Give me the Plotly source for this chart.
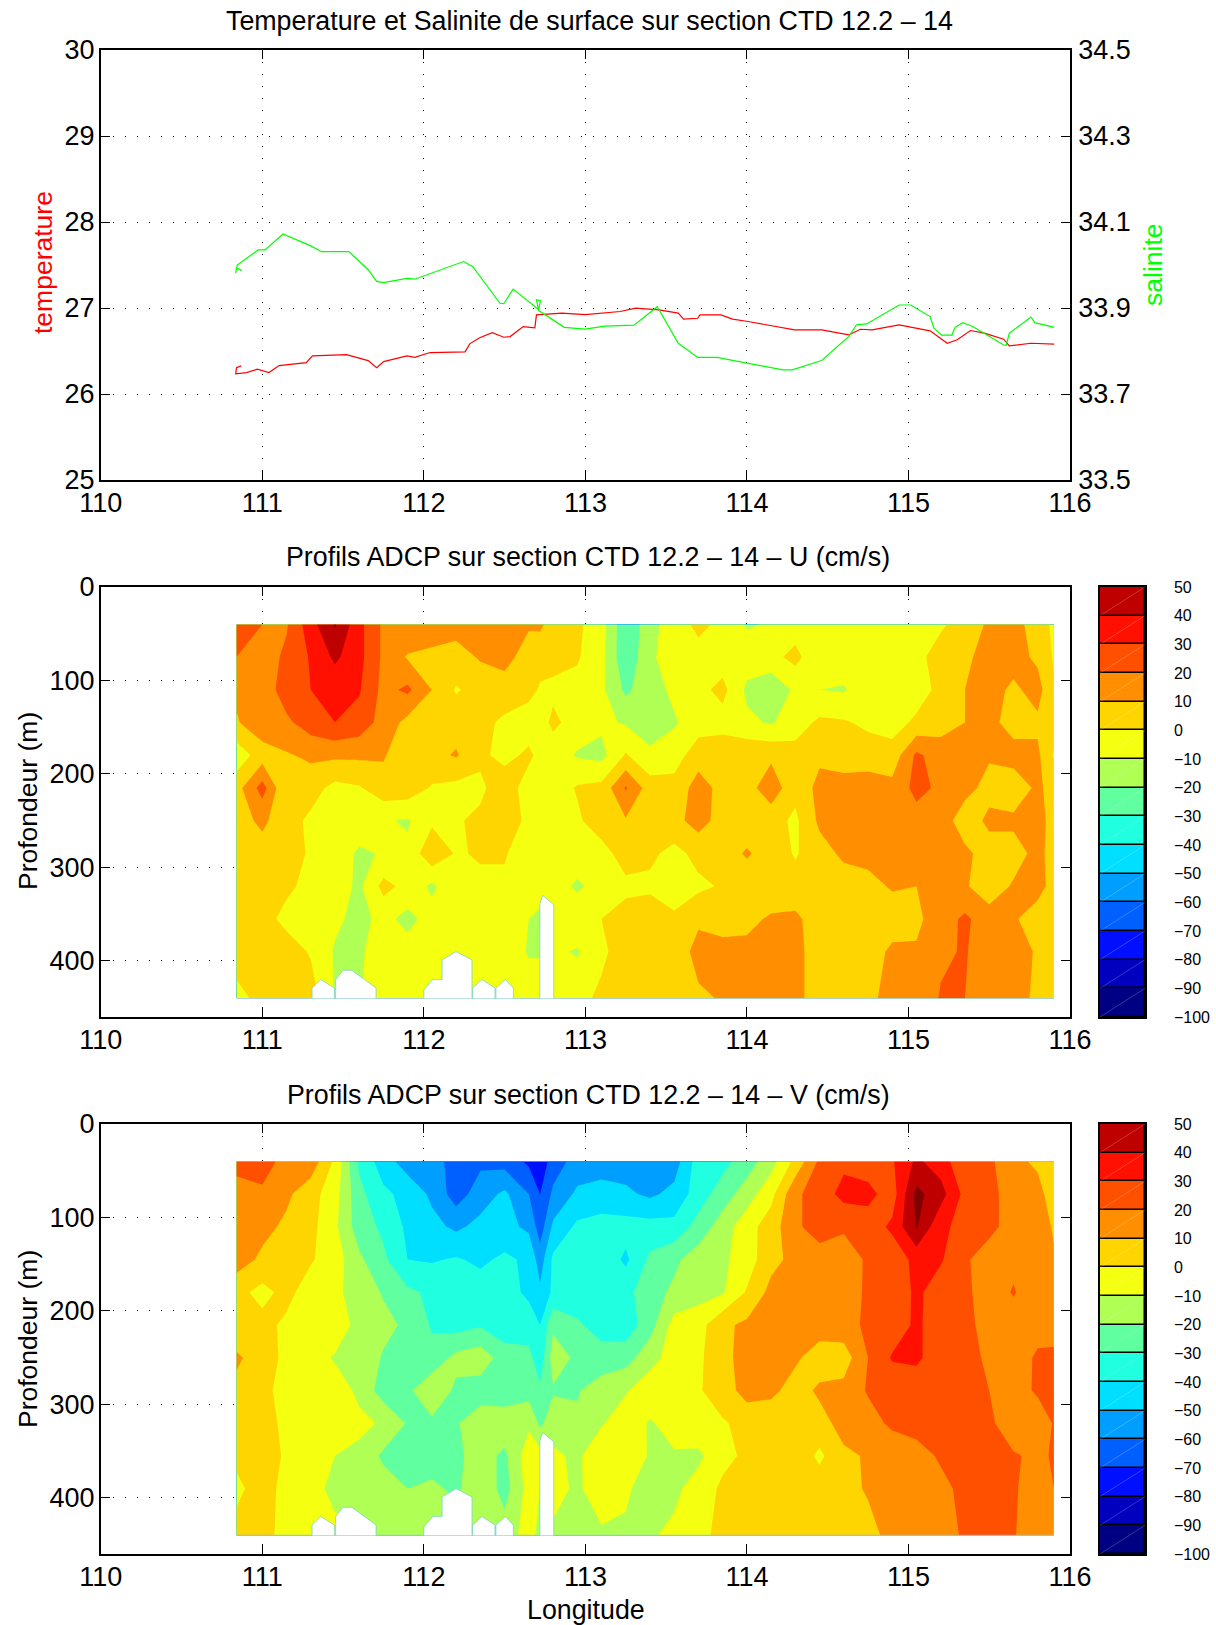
import plotly.graph_objects as go

W, H = 1216, 1625
FONT = "Liberation Sans"

temp_lon = [110.869,110.840,110.835,110.902,110.969,111.041,111.104,111.272,111.31,111.416,111.521,111.655,111.708,111.751,111.895,111.943,112.039,112.255,112.284,112.342,112.423,112.495,112.534,112.615,112.687,112.697,112.855,112.999,113.119,113.215,113.311,113.455,113.575,113.608,113.695,113.709,113.839,113.911,114.007,114.247,114.295,114.463,114.631,114.702,114.775,114.942,115.134,115.24,115.302,115.384,115.47,115.59,115.624,115.758,115.902]
temp_val = [26.327,26.307,26.234,26.249,26.288,26.249,26.33,26.365,26.443,26.451,26.458,26.389,26.307,26.377,26.443,26.427,26.482,26.49,26.583,26.652,26.714,26.66,26.668,26.784,26.769,26.92,26.94,26.924,26.94,26.959,26.998,26.978,26.94,26.87,26.881,26.92,26.92,26.87,26.843,26.765,26.746,26.746,26.687,26.753,26.746,26.804,26.734,26.59,26.63,26.738,26.707,26.637,26.559,26.59,26.579]
sal_lon = [110.873,110.84,110.835,110.845,110.974,111.017,111.128,111.296,111.368,111.536,111.655,111.708,111.751,111.895,111.943,112.246,112.303,112.423,112.471,112.495,112.553,112.711,112.721,112.697,112.711,112.869,112.999,113.119,113.301,113.445,113.575,113.695,113.815,114.223,114.28,114.463,114.631,114.679,114.741,114.942,115.014,115.134,115.158,115.206,115.269,115.288,115.336,115.398,115.59,115.605,115.624,115.758,115.782,115.902]
sal_val = [33.987,33.993,33.981,34.0,34.035,34.035,34.072,34.045,34.031,34.031,33.989,33.962,33.959,33.969,33.967,34.008,33.996,33.934,33.911,33.91,33.944,33.896,33.917,33.919,33.894,33.855,33.851,33.858,33.86,33.903,33.818,33.785,33.785,33.756,33.756,33.778,33.834,33.861,33.863,33.907,33.907,33.88,33.853,33.837,33.837,33.855,33.866,33.857,33.814,33.813,33.841,33.879,33.866,33.855]

lon_grid = [110.84,111.0,111.15,111.3,111.45,111.6,111.75,111.9,112.05,112.2,112.35,112.5,112.65,112.72,112.8,112.95,113.1,113.25,113.4,113.55,113.7,113.85,114.0,114.15,114.3,114.45,114.6,114.75,114.9,115.05,115.2,115.35,115.5,115.65,115.8,115.9]
depth_grid = [40,75,110,145,180,215,250,285,320,355,390,440]

u_field = [
[27,20,19,36,51,33,18,19,17,14,13,12,11,12,5,2,-6,-28,-14,-4,2,-2,-11,-9,-5,-4,-1,-4,-4,-4,-1,3,12,14,5,-2],
[20,15,22,31,42,33,18,9,7,6,11,13,6,3,3,1,-7,-28,-12,-4,-3,-5,-5,-3,3,-8,-4,-3,-3,-2,3,9,12,14,8,-1],
[12,14,25,30,33,31,17,22,10,-1,4,6,3,-1,-2,-3,-8,-22,-14,-8,-3,3,-12,-18,-8,-10,-11,-3,-3,-5,3,10,14,8,14,1],
[9,17,18,25,30,26,16,7,8,6,3,-2,-5,-4,2,-4,-8,-11,-15,-11,-5,-4,-8,-11,-5,2,1,-2,-4,2,6,10,13,6,8,4],
[-6,5,9,12,12,12,11,3,7,11,2,-3,2,-3,-5,-11,-13,1,-8,-5,6,7,8,8,4,8,4,5,4,22,15,13,11,14,12,-1],
[6,24,0,4,-3,-1,6,6,-1,-3,-2,6,-5,-4,-6,1,3,21,5,4,14,7,6,16,3,13,15,15,13,23,18,13,7,4,12,6],
[6,12,4,-2,0,-3,-9,-11,-2,-1,2,7,-3,-2,-8,-2,7,9,6,7,14,6,5,4,-2,12,14,14,12,16,15,5,12,12,12,8],
[5,6,7,-2,-3,-12,-9,-8,8,-1,1,1,-7,-6,-3,-3,-5,6,2,-3,3,6,11,6,-1,6,12,13,14,14,15,12,6,6,13,6],
[4,8,2,-3,-5,-12,3,-3,-12,-2,-2,-2,-9,-6,-4,-12,-5,-3,-2,-3,-2,1,5,5,4,4,5,7,11,10,13,11,5,11,13,7],
[4,4,-3,-6,-8,-13,-7,-13,-6,-3,-2,-3,-10,-12,-5,-2,0,5,6,1,8,5,8,11,12,5,5,5,5,8,15,22,14,11,6,4],
[3,6,5,-1,-11,-12,-3,-6,-2,-2,-3,-3,-11,-11,-8,-11,-2,5,4,3,14,14,12,11,13,5,5,5,12,11,18,21,13,14,9,5],
[-2,2,5,5,-11,-11,-3,-4,-4,-3,-3,-3,-4,-4,-4,-3,2,8,7,5,8,11,14,14,13,5,5,8,13,11,21,20,15,14,8,6],
]

v_field = [
[25,25,16,16,-2,-32,-45,-55,-55,-65,-62,-64,-72,-77,-65,-56,-55,-55,-55,-55,-35,-33,-25,-14,3,22,28,25,29,42,35,22,22,13,8,2],
[14,18,12,4,-6,-27,-38,-43,-52,-65,-55,-48,-60,-70,-58,-48,-46,-48,-52,-47,-35,-25,-15,-3,18,25,33,33,25,53,44,27,22,17,14,4],
[13,13,8,3,-8,-25,-32,-42,-47,-52,-47,-47,-52,-65,-48,-38,-36,-36,-36,-37,-26,-15,-4,5,18,25,22,25,32,51,32,27,24,14,15,9],
[15,8,8,1,-5,-18,-28,-40,-41,-39,-42,-38,-42,-55,-38,-35,-33,-42,-28,-22,-15,-12,-5,7,13,15,13,22,24,33,31,22,13,17,14,11],
[3,-3,3,-5,-8,-14,-21,-28,-32,-36,-35,-36,-42,-48,-38,-34,-34,-33,-24,-18,-14,-11,1,13,15,16,17,21,23,32,25,23,13,21,12,17],
[1,3,-2,-5,-3,-14,-17,-22,-31,-34,-31,-36,-35,-40,-22,-29,-33,-36,-24,-6,-4,8,12,12,14,16,16,22,24,32,24,23,16,14,15,14],
[12,4,-2,-6,-11,-13,-21,-24,-27,-17,-14,-25,-27,-36,-15,-22,-27,-24,-14,-5,-2,7,14,16,12,4,5,20,31,32,24,22,19,13,22,23],
[7,3,-4,-6,-5,-12,-25,-22,-12,-22,-25,-26,-24,-28,-21,-21,-14,-11,-4,-3,-1,5,14,13,5,12,13,21,23,24,23,22,20,14,22,24],
[4,5,-3,-4,-5,-8,-11,-21,-22,-21,-14,-14,-12,-22,-15,-18,-11,-4,-11,-6,-3,-1,3,2,5,6,14,16,22,23,22,22,22,14,12,21],
[2,7,-2,-4,-10,-12,-22,-24,-25,-22,-16,-22,-4,-6,-8,-12,-2,-3,-11,-11,-12,-3,2,4,6,-2,8,11,13,17,21,24,22,21,18,21],
[-2,4,-3,-6,-13,-16,-15,-20,-18,-22,-12,-24,-6,-10,-6,-12,-3,-9,-13,-12,-6,2,5,4,6,5,7,11,13,14,18,22,22,21,16,20],
[3,4,-4,-6,-7,-7,-12,-15,-13,-14,-13,-15,-6,-13,-12,-11,-12,-11,-11,-8,-3,3,4,5,5,5,5,7,13,14,14,22,22,21,12,13],
]

gap_lon = [111.308,111.308,111.362,111.446,111.446,None,111.454,111.454,111.50,111.553,111.704,111.704,None,112.0,112.0,112.055,112.113,112.113,112.199,112.298,112.298,None,112.302,112.302,112.36,112.44,112.44,None,112.446,112.446,112.505,112.554,112.554,None,112.718,112.718,112.736,112.804,112.804]
gap_depth = [440,429,420,429,440,None,440,420,410,410,429,440,None,440,431,420,420,399,390,399,440,None,440,429,420,429,440,None,440,429,420,429,440,None,440,339,330,340,440]
floor_lon = [110.84,111.308,None,111.704,112.0,None,112.554,112.718,None,112.804,115.9]
floor_depth = [440,440,None,440,440,None,440,440,None,440,440]

levels = [-100,-90,-80,-70,-60,-50,-40,-30,-20,-10,0,10,20,30,40]
band_colors = ["#000082","#0000BE","#0010FF","#0060FF","#009FFF","#00DFFF","#20FFDF","#60FF9F","#AFFF55","#F5FF10","#FFD500","#FF8F00","#FF5000","#FF1000","#BE0000"]
top_color = "#800000"
below_color = "#FFFFFF"
tick_levels = [50,40,30,20,10,0,-10,-20,-30,-40,-50,-60,-70,-80,-90,-100]
lon_ticks = [110,111,112,113,114,115,116]
temp_ticks = [25,26,27,28,29,30]
sal_ticks = [33.5,33.7,33.9,34.1,34.3,34.5]
sal_labels = ["33.5","33.7","33.9","34.1","34.3","34.5"]
depth_ticks = [0,100,200,300,400]

# plotly samples the fill scale at k/16, k=0 being "below start"
stops = [below_color] + band_colors + [top_color]
scale = []
for k, c in enumerate(stops):
    scale.append([max(0, (k - 0.5) / 16), c])
    scale.append([min(1, (k + 0.5) / 16), c])

def xd(a, b): return [a / W, b / W]
def yd(a, b): return [1 - b / H, 1 - a / H]

fig = go.Figure()
fig.add_trace(go.Scatter(x=temp_lon, y=temp_val, mode="lines", line=dict(color="#FF0000", width=1.2), xaxis="x", yaxis="y"))
fig.add_trace(go.Scatter(x=sal_lon, y=sal_val, mode="lines", line=dict(color="#00FF00", width=1.2), xaxis="x", yaxis="y2"))

def add_field(z, xa, ya, floor=False):
    fig.add_trace(go.Contour(x=lon_grid, y=depth_grid, z=z, xaxis=xa, yaxis=ya, showscale=False,
                             colorscale=scale, autocontour=False,
                             contours=dict(start=-100, end=50, size=10, coloring="fill", showlines=False),
                             line=dict(width=0, smoothing=0), hoverinfo="skip"))
    fig.add_trace(go.Scatter(x=gap_lon, y=gap_depth, mode="lines", fill="toself", fillcolor="white",
                             line=dict(color="#6ECDD0", width=0.7), xaxis=xa, yaxis=ya))
    if floor:
        fig.add_trace(go.Scatter(x=floor_lon, y=floor_depth, mode="lines",
                                 line=dict(color="#7CC8E8", width=1), xaxis=xa, yaxis=ya))

add_field(u_field, "x2", "y3")
add_field(v_field, "x3", "y4", floor=True)

def add_bar(xa, ya):
    fig.add_trace(go.Bar(x=[0.5] * len(levels), y=[10] * len(levels), base=levels, width=1,
                         marker=dict(color=band_colors, line=dict(color="black", width=1.5)),
                         xaxis=xa, yaxis=ya))
    dx, dy = [], []
    for lv in levels:
        dx += [0, 1, None]
        dy += [lv, lv + 10, None]
    fig.add_trace(go.Scatter(x=dx, y=dy, mode="lines", line=dict(color="rgba(255,255,255,0.35)", width=0.6), xaxis=xa, yaxis=ya))

add_bar("x4", "y5")
add_bar("x5", "y6")

DASH = "1px,11px"
TICK = 27
def xax(dom_anchor):
    return dict(domain=xd(100.8, 1070), range=[110, 116], tickvals=lon_ticks, ticks="inside", ticklen=9, tickwidth=1,
                tickcolor="black", mirror="ticks", showline=True, linecolor="black", linewidth=2, automargin=False,
                showgrid=True, gridcolor="black", griddash=DASH, gridwidth=1, zeroline=False,
                anchor=dom_anchor, ticklabelstandoff=-2, tickfont=dict(family=FONT, size=TICK, color="black"))
def yax(dom, rng, vals, anchor):
    return dict(domain=dom, range=rng, tickvals=vals, ticks="inside", ticklen=9, tickwidth=1, tickcolor="black",
                showline=True, linecolor="black", linewidth=1.5, mirror="ticks", automargin=False,
                showgrid=True, gridcolor="black", griddash=DASH, gridwidth=1, zeroline=False,
                anchor=anchor, ticklabelstandoff=-1, tickfont=dict(family=FONT, size=TICK, color="black"))

def cbx(anchor):
    return dict(domain=xd(1100, 1145), range=[0, 1], showticklabels=False, ticks="", showgrid=False, zeroline=False,
                showline=True, linecolor="black", linewidth=1.5, mirror=True, anchor=anchor, automargin=False)
def cby(dom, anchor):
    return dict(domain=dom, range=[-100, 50], tickvals=tick_levels, side="right", ticks="", showgrid=False, zeroline=False,
                showline=True, linecolor="black", linewidth=1.5, mirror=True, anchor=anchor, ticklabelstandoff=24,
                automargin=False, tickfont=dict(family=FONT, size=16, color="black"))

d1, d2, d3 = yd(50, 480), yd(587, 1017), yd(1124, 1554)
y1 = yax(d1, [25, 30], temp_ticks, "x"); y1["mirror"] = False
y2 = yax(d1, [33.5, 34.5], sal_ticks, "x")
y2.update(overlaying="y", side="right", mirror=False, showgrid=False, ticktext=sal_labels, ticklabelstandoff=1)

def note(text, xpx, ypx, size=26.8, color="black", angle=0):
    return dict(text=text, x=xpx / W, y=1 - ypx / H, xref="paper", yref="paper", showarrow=False, textangle=angle,
                xanchor="center", yanchor="middle", font=dict(family=FONT, size=size, color=color))

fig.update_layout(
    template="none",
    width=W, height=H, autosize=False, margin=dict(l=0, r=0, t=0, b=0, pad=0), showlegend=False,
    paper_bgcolor="white", plot_bgcolor="white", barmode="overlay", bargap=0,
    xaxis=xax("y"), yaxis=y1, yaxis2=y2,
    xaxis2=xax("y3"), yaxis3=yax(d2, [460, 0], depth_ticks, "x2"),
    xaxis3=xax("y4"), yaxis4=yax(d3, [460, 0], depth_ticks, "x3"),
    xaxis4=cbx("y5"), yaxis5=cby(d2, "x4"),
    xaxis5=cbx("y6"), yaxis6=cby(d3, "x5"),
    annotations=[
        note("Temperature et Salinite de surface sur section CTD 12.2 – 14", 589, 21),
        note("Profils ADCP sur section CTD 12.2 – 14 – U (cm/s)", 588, 557),
        note("Profils ADCP sur section CTD 12.2 – 14 – V (cm/s)", 588, 1095),
        note("Longitude", 586, 1610),
        note("temperature", 43, 263, size=26.5, color="#FF0000", angle=-90),
        note("salinite", 1153, 265, size=26.5, color="#00FF00", angle=-90),
        note("Profondeur (m)", 28, 801, size=26.5, angle=-90),
        note("Profondeur (m)", 28, 1339, size=26.5, angle=-90),
    ],
)
fig.write_html("out.html", config={"displayModeBar": False}, post_script="document.body.style.margin='0';")
